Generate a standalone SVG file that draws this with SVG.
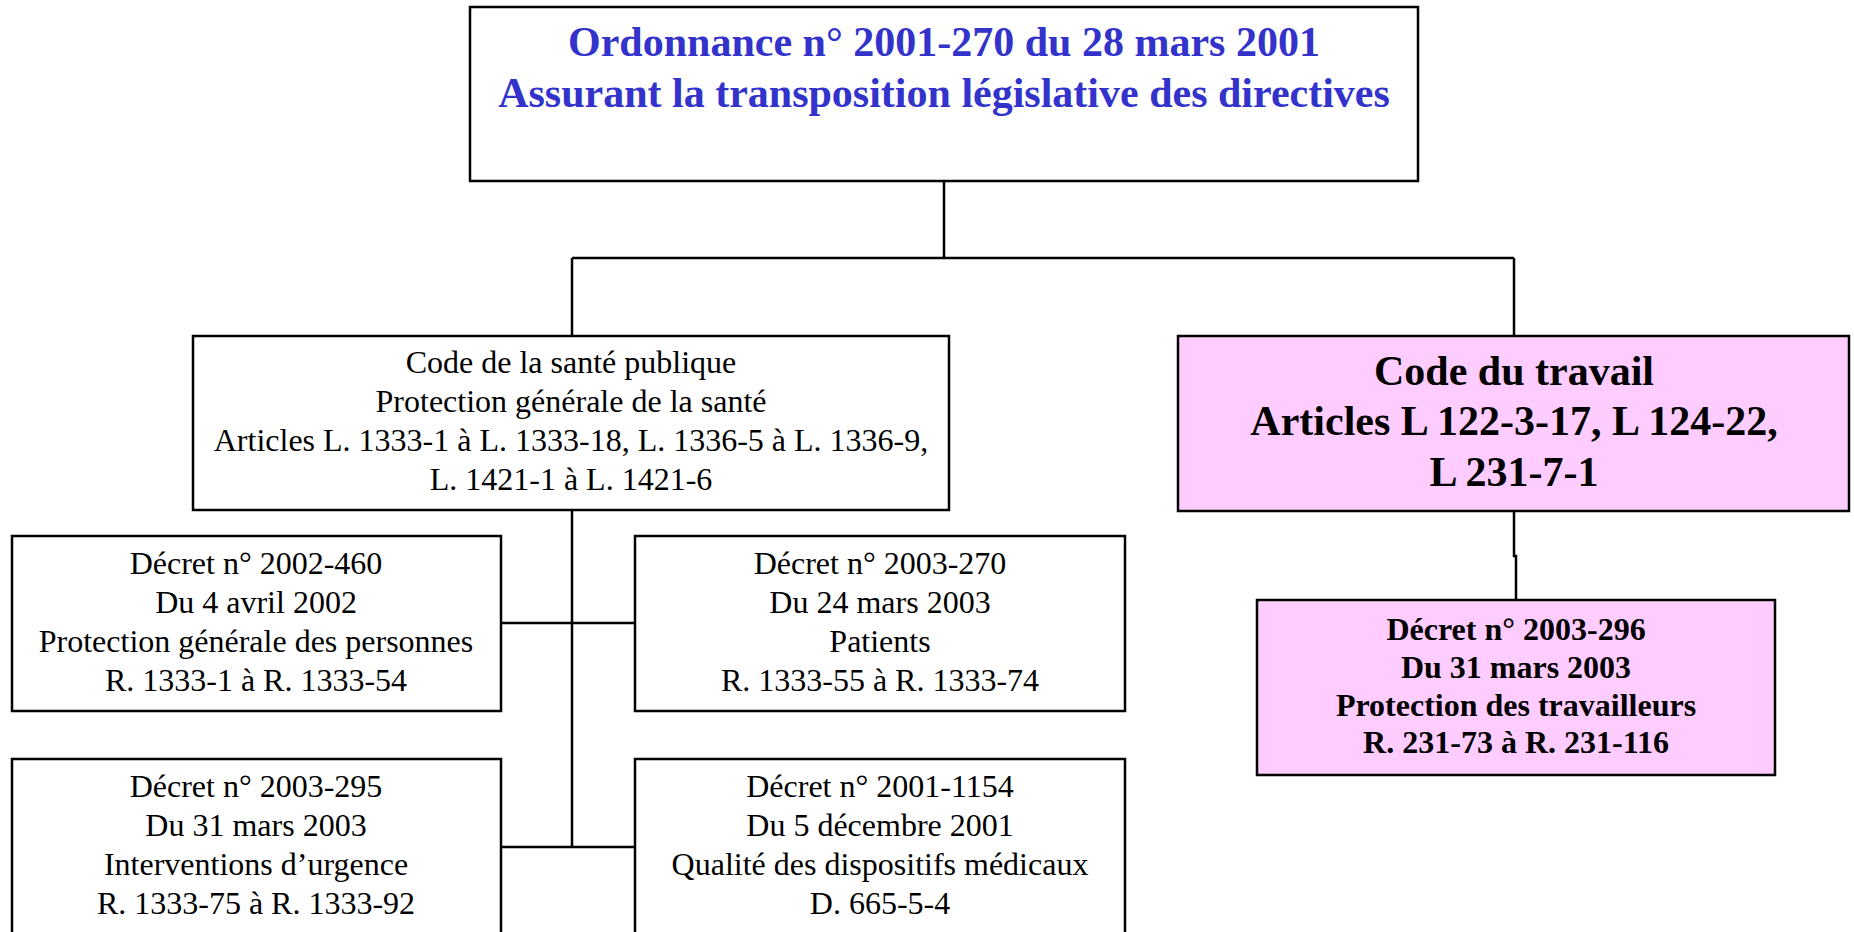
<svg xmlns="http://www.w3.org/2000/svg" width="1854" height="932" viewBox="0 0 1854 932">
<style>
.box{fill:#ffffff;stroke:#000;stroke-width:2.5}
.pink{fill:#ffccff;stroke:#000;stroke-width:2.5}
.t{font-family:"Liberation Serif","Times New Roman",serif;font-size:32px;fill:#000;text-anchor:middle}
.b{font-weight:bold}
.title{font-family:"Liberation Serif","Times New Roman",serif;font-size:42px;font-weight:bold;fill:#3333cc;text-anchor:middle}
.big{font-family:"Liberation Serif","Times New Roman",serif;font-size:42px;font-weight:bold;fill:#000;text-anchor:middle}
.c{fill:none;stroke:#000;stroke-width:2.5}
</style>
<rect width="1854" height="932" fill="#fff"/>
<g id="connectors">
<path class="c" d="M944 181 V258 M572 258 H1514 M572 258 V336 M1514 258 V336"/>
<path class="c" d="M572 510 V847 M501 623 H635 M501 847 H635"/>
<path class="c" d="M1514 511 V556 H1516 V599"/>
</g>
<g id="ordonnance">
<rect class="box" x="470" y="7" width="948" height="174"/>
<text class="title" x="944" y="56">Ordonnance n° 2001-270 du 28 mars 2001</text>
<text class="title" x="944" y="107">Assurant la transposition législative des directives</text>
</g>
<g id="code-sante">
<rect class="box" x="193" y="336" width="756" height="174"/>
<text class="t" x="571" y="373">Code de la santé publique</text>
<text class="t" x="571" y="412">Protection générale de la santé</text>
<text class="t" x="571" y="451">Articles L. 1333-1 à L. 1333-18, L. 1336-5 à L. 1336-9,</text>
<text class="t" x="571" y="490">L. 1421-1 à L. 1421-6</text>
</g>
<g id="code-travail">
<rect class="pink" x="1178" y="336" width="671" height="175"/>
<text class="big" x="1514" y="385">Code du travail</text>
<text class="big" x="1514" y="435">Articles L 122-3-17, L 124-22,</text>
<text class="big" x="1514" y="486">L 231-7-1</text>
</g>
<g id="decret-2003-296">
<rect class="pink" x="1257" y="600" width="518" height="175"/>
<text class="t b" x="1516" y="640">Décret n° 2003-296</text>
<text class="t b" x="1516" y="678">Du 31 mars 2003</text>
<text class="t b" x="1516" y="716">Protection des travailleurs</text>
<text class="t b" x="1516" y="753">R. 231-73 à R. 231-116</text>
</g>
<g id="decret-2002-460">
<rect class="box" x="12" y="536" width="489" height="175"/>
<text class="t" x="256" y="574">Décret n° 2002-460</text>
<text class="t" x="256" y="613">Du 4 avril 2002</text>
<text class="t" x="256" y="652">Protection générale des personnes</text>
<text class="t" x="256" y="691">R. 1333-1 à R. 1333-54</text>
</g>
<g id="decret-2003-270">
<rect class="box" x="635" y="536" width="490" height="175"/>
<text class="t" x="880" y="574">Décret n° 2003-270</text>
<text class="t" x="880" y="613">Du 24 mars 2003</text>
<text class="t" x="880" y="652">Patients</text>
<text class="t" x="880" y="691">R. 1333-55 à R. 1333-74</text>
</g>
<g id="decret-2003-295">
<rect class="box" x="12" y="759" width="489" height="190"/>
<text class="t" x="256" y="797">Décret n° 2003-295</text>
<text class="t" x="256" y="836">Du 31 mars 2003</text>
<text class="t" x="256" y="875">Interventions d’urgence</text>
<text class="t" x="256" y="914">R. 1333-75 à R. 1333-92</text>
</g>
<g id="decret-2001-1154">
<rect class="box" x="635" y="759" width="490" height="190"/>
<text class="t" x="880" y="797">Décret n° 2001-1154</text>
<text class="t" x="880" y="836">Du 5 décembre 2001</text>
<text class="t" x="880" y="875">Qualité des dispositifs médicaux</text>
<text class="t" x="880" y="914">D. 665-5-4</text>
</g>
</svg>
